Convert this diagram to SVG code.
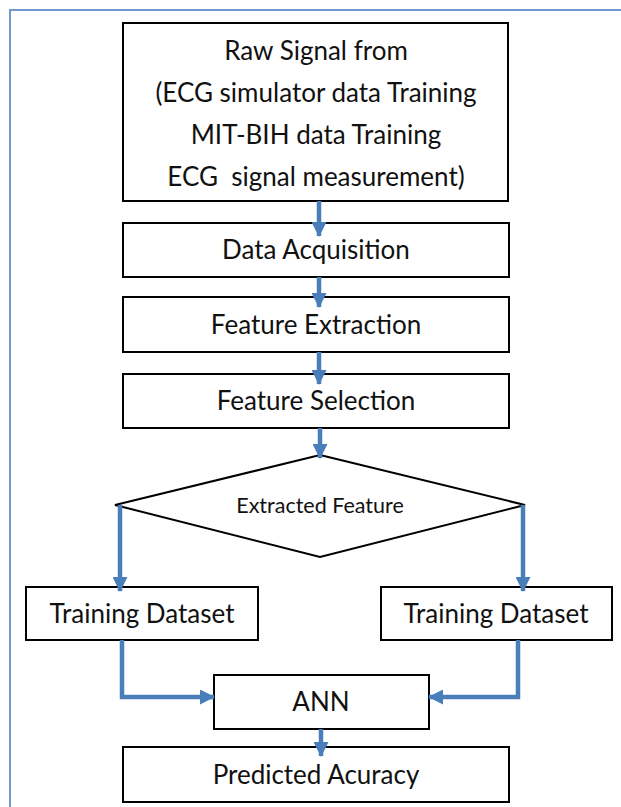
<svg xmlns="http://www.w3.org/2000/svg" width="621" height="807" viewBox="0 0 621 807">
<style>
.box{fill:#fff;stroke:#000;stroke-width:2}
.t{font-family:Lato,"Open Sans",sans-serif;font-size:26px;fill:#111;text-anchor:middle}
.ts{font-family:Lato,"Open Sans",sans-serif;font-size:21.5px;fill:#111;text-anchor:middle}
.c{fill:none;stroke:#4a7ebb;stroke-width:4.5;marker-end:url(#ah)}
.frame{fill:none;stroke:#7199cf;stroke-width:2}
</style>
<defs>
<marker id="ah" markerUnits="userSpaceOnUse" markerWidth="15" markerHeight="15" viewBox="0 0 15 15" refX="14" refY="7.5" orient="auto">
<path d="M0,0 L15,7.5 L0,15 Z" fill="#4a7ebb"/>
</marker>
</defs>
<rect width="621" height="807" fill="#fff"/>
<path class="frame" d="M10,807 V10 H621"/>
<g id="n-raw"><rect class="box" x="123" y="23" width="385" height="178"/>
<text class="t" x="316" y="60">Raw Signal from</text>
<text class="t" x="316" y="102">(ECG simulator data Training</text>
<text class="t" x="316" y="144">MIT-BIH data Training</text>
<text class="t" x="316" y="186" xml:space="preserve">ECG  signal measurement)</text></g>
<g id="n-acq"><rect class="box" x="123" y="223" width="386" height="54"/><text class="t" x="316" y="259">Data Acquisition</text></g>
<g id="n-ext"><rect class="box" x="123" y="297" width="386" height="55"/><text class="t" x="316" y="334">Feature Extraction</text></g>
<g id="n-sel"><rect class="box" x="123" y="374" width="386" height="54"/><text class="t" x="316" y="410">Feature Selection</text></g>
<g id="n-dec"><polygon class="box" points="320,455 525,505 320,557 115,505"/><text class="ts" x="320" y="513">Extracted Feature</text></g>
<g id="n-trL"><rect class="box" x="26" y="587" width="232" height="53"/><text class="t" x="142" y="623">Training Dataset</text></g>
<g id="n-trR"><rect class="box" x="381" y="587" width="231" height="53"/><text class="t" x="496" y="623">Training Dataset</text></g>
<g id="n-ann"><rect class="box" x="214" y="675" width="215" height="54"/><text class="t" x="321" y="711">ANN</text></g>
<g id="n-pred"><rect class="box" x="123" y="747" width="386" height="55"/><text class="t" x="316" y="784">Predicted Acuracy</text></g>
<g id="connectors">
<path class="c" d="M319,201 V236"/>
<path class="c" d="M319,277 V307"/>
<path class="c" d="M319,352 V384"/>
<path class="c" d="M320,428 V458"/>
<path class="c" d="M120,505 V591"/>
<path class="c" d="M523,505 V591"/>
<path class="c" d="M122,640 V697 H214"/>
<path class="c" d="M518,640 V697 H429"/>
<path class="c" d="M321,729 V756"/>
</g>
</svg>
